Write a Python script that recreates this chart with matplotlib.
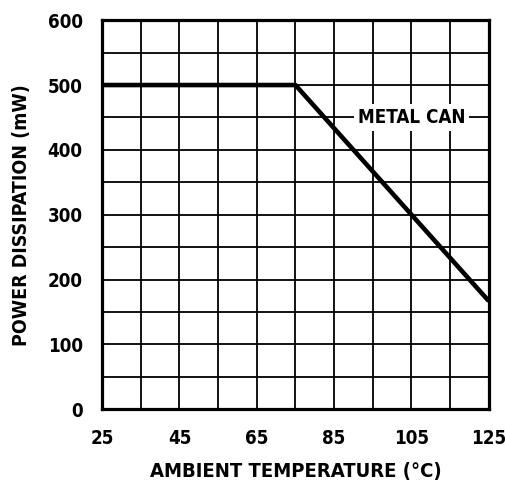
import matplotlib.pyplot as plt
import numpy as np

# derating curve (metal can)
temp = [25, 75, 125]
power = [500, 500, 166.7]

x_ticks = [25, 45, 65, 85, 105, 125]
x_grid = [35, 55, 75, 95, 115]
y_ticks = [0, 100, 200, 300, 400, 500, 600]
y_grid = [50, 150, 250, 350, 450, 550]

plt.rcParams['font.family'] = ['DejaVu Sans']
plt.rcParams['font.stretch'] = 'condensed'
plt.rcParams['font.weight'] = 'bold'

fig = plt.figure(figsize=(5.05, 4.93), dpi=100)
ax = fig.add_axes([0.202, 0.170, 0.766, 0.789])

ax.plot(temp, power, color='black', lw=3.3, solid_capstyle='butt', zorder=3)

ax.set_xlim(25, 125)
ax.set_ylim(0, 600)
ax.set_xticks(x_ticks)
ax.set_xticks(x_grid, minor=True)
ax.set_yticks(y_ticks)
ax.set_yticks(y_grid, minor=True)
ax.grid(True, which='both', color='black', lw=1.3)
ax.tick_params(which='both', length=0)
ax.tick_params(axis='x', pad=14, labelsize=13.5)
ax.tick_params(axis='y', pad=14, labelsize=13.5)
for lab in ax.get_xticklabels() + ax.get_yticklabels():
    lab.set_fontweight('bold')
    lab.set_fontstretch('condensed')

for s in ax.spines.values():
    s.set_linewidth(2.3)

ax.text(105, 450, 'METAL CAN', ha='center', va='center', fontsize=13.5,
        fontweight='bold', fontstretch='condensed', zorder=4,
        bbox=dict(facecolor='white', edgecolor='none', pad=3))

ax.set_xlabel('AMBIENT TEMPERATURE (°C)', fontsize=14.5, fontweight='bold',
              fontstretch='condensed', labelpad=10)
ax.set_ylabel('POWER DISSIPATION (mW)', fontsize=14, fontweight='bold',
              fontstretch='condensed', labelpad=12)

plt.savefig('out.png', dpi=100)
